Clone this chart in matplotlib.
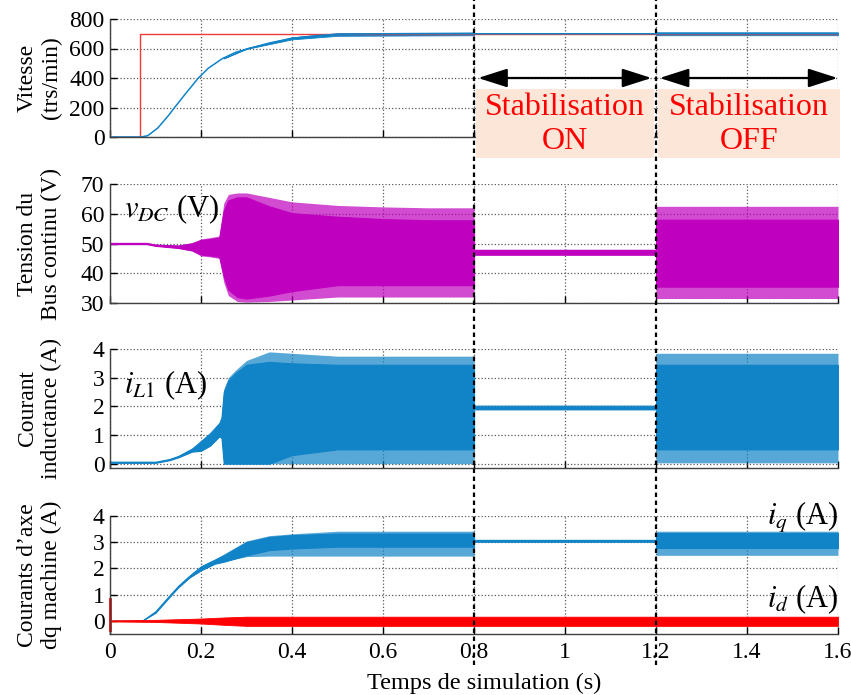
import matplotlib.pyplot as plt
from matplotlib.lines import Line2D
from matplotlib.patches import Rectangle
from matplotlib.transforms import blended_transform_factory

plt.rcParams['font.family'] = ['Liberation Serif', 'DejaVu Serif']
plt.rcParams['mathtext.fontset'] = 'stix'

BLUE = '#1183c7'
MAGENTA = '#bf00bf'
RED = '#ff0000'
REF_RED = '#f03a3a'
BOX = '#fbe6d8'

# --- vitesse (trs/min) ---
t_ref = [0, 0.066, 0.066, 1.6]
speed_ref = [0, 0, 700, 700]
t_speed = [0, 0.068, 0.083, 0.105, 0.127, 0.142, 0.164, 0.194, 0.216, 0.246,
           0.276, 0.305, 0.35, 0.4, 0.46, 0.5, 0.61, 1.6]
speed = [0, 0, 9, 61, 140, 200, 286, 399, 466, 530,
         574, 600, 637, 669, 689, 696, 700, 700]
t_speed_noise = [0.25, 0.3, 0.4, 0.5, 0.8, 0.8, 1.2, 1.2, 1.6]
speed_noise_lo = [533, 597, 662, 686, 690, 699, 699, 690, 690]
speed_noise_hi = [533, 603, 676, 704, 709, 701, 701, 710, 710]

# --- tension bus continu (V) : enveloppes ---
t_vdc = [0, 0.08, 0.1, 0.15, 0.18, 0.2, 0.22, 0.24, 0.25, 0.26, 0.28, 0.3,
         0.35, 0.4, 0.5, 0.6, 0.7, 0.8, 0.8, 1.2, 1.2, 1.6]
vdc_hi_peak = [50.3, 50.3, 49.8, 49.5, 50.3, 51.5, 52.0, 52.5, 63.5, 66.5, 67.0, 67.0,
               65.5, 64.0, 62.8, 62.3, 62.0, 62.0, 48.1, 48.1, 62.5, 62.5]
vdc_hi = [50.2, 50.2, 49.6, 49.3, 50.0, 51.2, 51.5, 52.0, 61.0, 64.5, 65.5, 65.5,
          62.5, 60.2, 59.0, 58.2, 57.8, 57.8, 47.8, 47.8, 58.0, 58.0]
vdc_lo = [49.8, 49.8, 49.2, 48.5, 47.7, 46.3, 46.0, 45.5, 39.0, 34.5, 32.0, 31.5,
          32.5, 34.0, 36.0, 36.0, 36.0, 36.0, 46.3, 46.3, 35.5, 35.5]
vdc_lo_peak = [49.8, 49.8, 49.2, 48.4, 47.5, 45.8, 45.5, 45.0, 37.0, 32.5, 30.5, 30.3,
               30.5, 31.0, 32.0, 32.0, 32.0, 32.0, 46.0, 46.0, 31.5, 31.5]

# --- courant inductance (A) ---
t_il = [0, 0.1, 0.13, 0.15, 0.18, 0.2, 0.22, 0.24, 0.245, 0.25, 0.26, 0.275, 0.3,
        0.35, 0.4, 0.5, 0.6, 0.8, 0.8, 1.2, 1.2, 1.6]
il_hi_peak = [0.07, 0.07, 0.17, 0.28, 0.55, 0.82, 1.1, 1.45, 1.65, 2.6, 3.0, 3.25, 3.6,
              3.9, 3.85, 3.75, 3.75, 3.75, 2.05, 2.05, 3.85, 3.85]
il_hi = [0.07, 0.07, 0.16, 0.27, 0.52, 0.78, 1.05, 1.4, 1.6, 2.5, 2.9, 3.15, 3.45,
         3.55, 3.5, 3.45, 3.45, 3.45, 2.0, 2.0, 3.45, 3.45]
il_lo = [0.03, 0.03, 0.12, 0.22, 0.42, 0.45, 0.63, 0.95, 0.9, 0.0, 0.0, 0.0, 0.0,
         0.0, 0.3, 0.5, 0.5, 0.5, 1.9, 1.9, 0.5, 0.5]
il_lo_peak = [0.03, 0.03, 0.12, 0.22, 0.42, 0.45, 0.63, 0.95, 0.9, 0.0, 0.0, 0.0, 0.0,
              0.0, 0.0, 0.0, 0.0, 0.0, 1.88, 1.88, 0.03, 0.03]

# --- courants d'axe dq (A) ---
t_iq = [0, 0.07, 0.1, 0.127, 0.15, 0.175, 0.2, 0.23, 0.25, 0.275, 0.3, 0.35, 0.4,
        0.5, 0.8, 0.8, 1.2, 1.2, 1.6]
iq_hi_peak = [0.0, 0.0, 0.38, 0.92, 1.36, 1.75, 2.1, 2.36, 2.55, 2.8, 3.05, 3.25, 3.32,
              3.42, 3.42, 3.1, 3.1, 3.42, 3.42]
iq_hi = [0.0, 0.0, 0.37, 0.9, 1.34, 1.73, 2.08, 2.33, 2.5, 2.75, 3.0, 3.2, 3.27,
         3.33, 3.33, 3.09, 3.09, 3.35, 3.35]
iq_lo = [0.0, 0.0, 0.31, 0.84, 1.28, 1.66, 1.93, 2.18, 2.26, 2.38, 2.5, 2.7, 2.76,
         2.83, 2.83, 3.02, 3.02, 2.78, 2.78]
iq_lo_peak = [0.0, 0.0, 0.3, 0.83, 1.27, 1.65, 1.92, 2.17, 2.24, 2.36, 2.45, 2.47, 2.47,
              2.47, 2.47, 3.01, 3.01, 2.5, 2.5]
t_id = [0, 0.1, 0.2, 0.25, 0.3, 1.6]
id_hi = [0.02, 0.04, 0.09, 0.13, 0.16, 0.16]
id_lo = [-0.02, -0.04, -0.1, -0.15, -0.19, -0.19]
id_start = [-0.35, 0.85]

xticks = [0, 0.2, 0.4, 0.6, 0.8, 1.0, 1.2, 1.4, 1.6]
xticklabels = ['0', '0.2', '0.4', '0.6', '0.8', '1', '1.2', '1.4', '1.6']
t_switch = [0.8, 1.2]


def band(ax, t, lo_peak, lo, hi, hi_peak, color):
    ax.fill_between(t, lo_peak, hi_peak, color=color, alpha=0.7, lw=0)
    ax.fill_between(t, lo, hi, facecolor=color, edgecolor=color, lw=0.8)


def style(ax, ylim, yticks, ylabel, last=False):
    ax.set_xlim(0, 1.6)
    ax.set_ylim(*ylim)
    ax.set_xticks(xticks)
    ax.set_yticks(yticks)
    ax.set_xticklabels(xticklabels)
    ax.spines['top'].set_visible(False)
    ax.spines['right'].set_visible(False)
    for s in ('left', 'bottom'):
        ax.spines[s].set_color('0.25')
        ax.spines[s].set_linewidth(1.0)
    ax.set_axisbelow(True)
    ax.grid(True, linestyle=':', color='0.35', lw=0.9)
    ax.tick_params(direction='in', length=5, width=1, labelsize=17, pad=4,
                   labelbottom=last)
    ax.tick_params(axis='x', pad=6)
    ax.set_ylabel(ylabel, fontsize=17)
    ax.yaxis.set_label_coords(-0.066, 0.5)


W, H = 851, 695
fig = plt.figure(figsize=(W / 100, H / 100), dpi=100)


def axes_px(top, bottom):
    return fig.add_axes([110 / W, 1 - bottom / H, 728 / W, (bottom - top) / H])


ax1 = axes_px(19, 137)
ax2 = axes_px(184, 303)
ax3 = axes_px(349, 468)
ax4 = axes_px(516, 634)

# vitesse
ax1.plot(t_ref, speed_ref, color=REF_RED, lw=1.0)
ax1.fill_between(t_speed_noise, speed_noise_lo, speed_noise_hi, color=BLUE, lw=0.6)
ax1.plot(t_speed, speed, color=BLUE, lw=1.1)
style(ax1, (0, 800), [0, 200, 400, 600, 800], 'Vitesse\n(trs/min)')

# tension
band(ax2, t_vdc, vdc_lo_peak, vdc_lo, vdc_hi, vdc_hi_peak, MAGENTA)
style(ax2, (30, 70), [30, 40, 50, 60, 70], 'Tension du\nBus continu (V)')
ax2.text(0.03, 61.5, r'$v_{DC}$ (V)', fontsize=22, va='center', ha='left')

# courant inductance
band(ax3, t_il, il_lo_peak, il_lo, il_hi, il_hi_peak, BLUE)
style(ax3, (-0.15, 4), [0, 1, 2, 3, 4], 'Courant\ninductance (A)')
ax3.text(0.03, 2.75, r'$i_{L1}$ (A)', fontsize=22, va='center', ha='left')

# courants dq
band(ax4, t_iq, iq_lo_peak, iq_lo, iq_hi, iq_hi_peak, BLUE)
ax4.fill_between(t_id, id_lo, id_hi, facecolor=RED, edgecolor=RED, lw=0.6)
ax4.plot([0, 0], id_start, color=RED, lw=2.0, clip_on=False)
style(ax4, (-0.5, 4), [0, 1, 2, 3, 4], 'Courants d’axe\ndq machine (A)', last=True)
ax4.text(1.6, 3.95, r'$i_q$ (A)', fontsize=22, va='center', ha='right')
ax4.text(1.6, 0.84, r'$i_d$ (A)', fontsize=22, va='center', ha='right')

fig.text(484 / W, 1 - 683 / H, 'Temps de simulation (s)', fontsize=17.5,
         ha='center', va='center')

# zones stabilisation ON / OFF
zones = [(0.805, 1.196, 'Stabilisation\nON'), (1.204, 1.605, 'Stabilisation\nOFF')]
for x0, x1, label in zones:
    ax1.add_patch(Rectangle((x0, -142), x1 - x0, 325 + 142, facecolor=BOX,
                            edgecolor='none', zorder=3, clip_on=False))
    ax1.text((x0 + x1) / 2, 86, label, color=RED, fontsize=23, ha='center',
             va='center', linespacing=1.25, zorder=4, clip_on=False)
    ax1.annotate('', xy=(x0 + 0.004, 400), xytext=(x1 - 0.006, 400),
                 arrowprops=dict(arrowstyle='<|-|>,head_length=1.0,head_width=0.32',
                                 color='k', lw=1.6, mutation_scale=18,
                                 shrinkA=0, shrinkB=0),
                 annotation_clip=False, zorder=5)

trans = blended_transform_factory(ax1.transData, fig.transFigure)
for x in t_switch:
    fig.add_artist(Line2D([x, x], [1 - 665 / H, 1.0], transform=trans, color='k',
                          lw=1.6, ls=(0, (2, 1.6)), zorder=10))

fig.savefig('out.png', dpi=100)
